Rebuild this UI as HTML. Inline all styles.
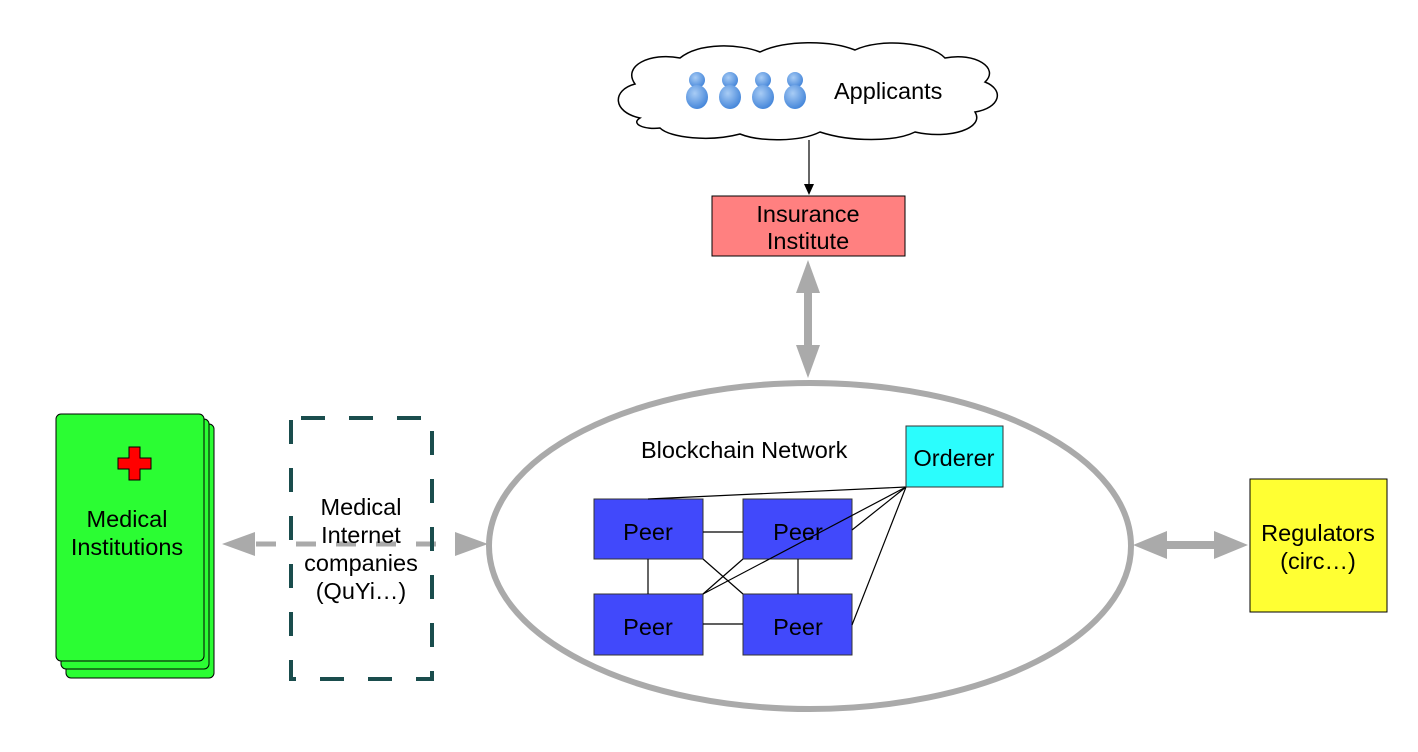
<!DOCTYPE html>
<html><head><meta charset="utf-8"><style>
html,body{margin:0;padding:0;background:#fff;}
svg{display:block;}
text{font-family:"Liberation Sans",Arial,sans-serif;font-size:23.5px;fill:#000;}
</style></head><body>
<svg width="1418" height="752" viewBox="0 0 1418 752" xmlns="http://www.w3.org/2000/svg">
<defs>
<radialGradient id="pg" cx="40%" cy="35%" r="70%"><stop offset="0" stop-color="#a8ccf5"/><stop offset="1" stop-color="#3f82d8"/></radialGradient>
</defs>
<path d="M640,118 C612,112 612,90 635,84 C622,66 650,52 680,58 C700,42 740,44 760,52 C785,40 830,40 855,50 C880,38 930,42 945,58 C975,52 1000,68 985,82 C1005,90 1000,108 975,112 C985,128 950,140 915,132 C895,142 850,142 820,132 C800,142 760,142 740,134 C710,142 670,138 660,128 C645,130 630,124 640,118 Z" fill="#fff" stroke="#000" stroke-width="1.5"/>
<g fill="url(#pg)">
<circle cx="697" cy="80" r="8"/><ellipse cx="697" cy="97" rx="11" ry="12"/>
<circle cx="730" cy="80" r="8"/><ellipse cx="730" cy="97" rx="11" ry="12"/>
<circle cx="763" cy="80" r="8"/><ellipse cx="763" cy="97" rx="11" ry="12"/>
<circle cx="795" cy="80" r="8"/><ellipse cx="795" cy="97" rx="11" ry="12"/>
</g>
<text x="834" y="99">Applicants</text>
<line x1="809" y1="140" x2="809" y2="185" stroke="#000" stroke-width="1.2"/>
<polygon points="804,184 814,184 809,195" fill="#000"/>
<rect x="712" y="196" width="193" height="60" fill="#ff8080" stroke="#000" stroke-width="1"/>
<text x="808" y="222" text-anchor="middle">Insurance</text>
<text x="808" y="249" text-anchor="middle">Institute</text>
<line x1="808" y1="290" x2="808" y2="348" stroke="#aaa" stroke-width="8"/>
<polygon points="808,260 796,293 820,293" fill="#aaa"/>
<polygon points="808,378 796,345 820,345" fill="#aaa"/>
<ellipse cx="810" cy="546" rx="321" ry="163" fill="#fff" stroke="#aaa" stroke-width="6"/>
<text x="641" y="458">Blockchain Network</text>
<g fill="#4149fb" stroke="#333" stroke-width="1">
<rect x="594" y="499" width="109" height="60"/>
<rect x="743" y="499" width="109" height="60"/>
<rect x="594" y="594" width="109" height="61"/>
<rect x="743" y="594" width="109" height="61"/>
</g>
<text x="648" y="540" text-anchor="middle">Peer</text>
<text x="798" y="540" text-anchor="middle">Peer</text>
<text x="648" y="635" text-anchor="middle">Peer</text>
<text x="798" y="635" text-anchor="middle">Peer</text>
<g stroke="#000" stroke-width="1.2">
<line x1="906" y1="487" x2="648" y2="499"/>
<line x1="906" y1="487" x2="703" y2="594"/>
<line x1="906" y1="487" x2="852" y2="530"/>
<line x1="906" y1="487" x2="852" y2="625"/>
<line x1="743" y1="559" x2="703" y2="594"/>
<line x1="703" y1="559" x2="743" y2="594"/>
<line x1="648" y1="559" x2="648" y2="594"/>
<line x1="798" y1="559" x2="798" y2="594"/>
<line x1="703" y1="532" x2="743" y2="532"/>
<line x1="703" y1="624" x2="743" y2="624"/>
</g>
<rect x="906" y="426" width="97" height="61" fill="#2bfdfd" stroke="#333" stroke-width="1"/>
<text x="954" y="466" text-anchor="middle">Orderer</text>
<line x1="1160" y1="545" x2="1220" y2="545" stroke="#aaa" stroke-width="8"/>
<polygon points="1133,545 1167,531 1167,559" fill="#aaa"/>
<polygon points="1248,545 1214,531 1214,559" fill="#aaa"/>
<rect x="1250" y="479" width="137" height="133" fill="#ffff33" stroke="#000" stroke-width="1"/>
<text x="1318" y="541" text-anchor="middle">Regulators</text>
<text x="1318" y="569" text-anchor="middle">(circ…)</text>
<rect x="66" y="424" width="148" height="254" rx="5" fill="#2bfd33" stroke="#000" stroke-width="1"/>
<rect x="61" y="419" width="148" height="250" rx="5" fill="#2bfd33" stroke="#000" stroke-width="1"/>
<rect x="56" y="414" width="148" height="247" rx="5" fill="#2bfd33" stroke="#000" stroke-width="1"/>
<path d="M129,447 h11 v11 h11 v11 h-11 v11 h-11 v-11 h-11 v-11 h11 z" fill="#f00" stroke="#000" stroke-width="1"/>
<text x="127" y="527" text-anchor="middle">Medical</text>
<text x="127" y="555" text-anchor="middle">Institutions</text>
<line x1="256" y1="544" x2="460" y2="544" stroke="#aaa" stroke-width="5" stroke-dasharray="20,20"/>
<polygon points="222,544 255,532 255,556" fill="#aaa"/>
<polygon points="488,544 455,532 455,556" fill="#aaa"/>
<rect x="291" y="418" width="141" height="261" fill="none" stroke="#1a4d4d" stroke-width="4" stroke-dasharray="24,24" stroke-dashoffset="-10"/>
<text x="361" y="515" text-anchor="middle">Medical</text>
<text x="361" y="543" text-anchor="middle">Internet</text>
<text x="361" y="571" text-anchor="middle">companies</text>
<text x="361" y="599" text-anchor="middle">(QuYi…)</text>
</svg>
</body></html>
